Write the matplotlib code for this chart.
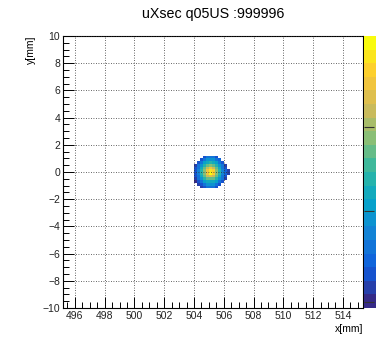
import numpy as np
import matplotlib
matplotlib.use("Agg")
import matplotlib.pyplot as plt
from matplotlib.colors import LinearSegmentedColormap, BoundaryNorm
from matplotlib.ticker import MultipleLocator

# beam spot, 0.2 mm bins, rows from top (y=+1.2) to bottom (y=-1.2)
x_edges = np.arange(504.0, 506.41, 0.2)
y_edges = np.arange(-1.2, 1.21, 0.2)
counts = np.array([
    [0, 0, 0, .22, .28, .30, .28, .22, 0, 0, 0, 0],
    [0, 0, .22, .32, .38, .40, .38, .32, .25, 0, 0, 0],
    [0, .22, .32, .42, .50, .52, .50, .42, .32, .22, 0, 0],
    [.18, .28, .40, .52, .60, .65, .60, .52, .40, .28, .18, 0],
    [.22, .32, .48, .62, .75, .82, .75, .62, .48, .32, .22, 0],
    [.22, .36, .52, .68, .85, .95, .90, .68, .52, .36, .25, .18],
    [.22, .36, .52, .68, .86, 1.0, .90, .68, .52, .36, .25, .18],
    [.20, .32, .48, .62, .75, .80, .75, .62, .48, .32, .22, 0],
    [.15, .28, .40, .52, .60, .62, .60, .52, .40, .28, .18, 0],
    [.12, .22, .32, .42, .48, .50, .48, .42, .32, .22, 0, 0],
    [0, .15, .22, .32, .38, .38, .38, .32, .22, 0, 0, 0],
    [0, 0, .15, .22, .28, .28, .28, .22, 0, 0, 0, 0],
])[::-1]
z_min, z_max = 0.10, 1.0
z_ticks = [0.12, 0.42, 0.70]

# ROOT kBird palette
bird = [(0.2082, 0.1664, 0.5293), (0.0592, 0.3599, 0.8684),
        (0.0780, 0.5041, 0.8385), (0.0232, 0.6419, 0.7914),
        (0.1802, 0.7178, 0.6425), (0.5301, 0.7492, 0.4662),
        (0.8186, 0.7328, 0.3499), (0.9956, 0.7862, 0.1968),
        (0.9764, 0.9832, 0.0539)]
cmap = LinearSegmentedColormap.from_list("bird", bird, N=255)
levels = np.linspace(z_min, z_max, 21)
norm = BoundaryNorm(levels, cmap.N)

plt.rcParams['font.family'] = ['Liberation Sans', 'DejaVu Sans']

W, H = 376, 339
fig = plt.figure(figsize=(W / 100, H / 100), dpi=100)
ax = fig.add_axes([63 / W, 1 - 308 / H, 300 / W, 272 / H])

z = np.ma.masked_equal(counts, 0)
mesh = ax.pcolormesh(x_edges, y_edges, z, cmap=cmap, norm=norm)

ax.set_xlim(495.2, 515.35)
ax.set_ylim(-10, 10)
ax.xaxis.set_major_locator(MultipleLocator(2))
ax.xaxis.set_minor_locator(MultipleLocator(0.5))
ax.yaxis.set_major_locator(MultipleLocator(2))
ax.yaxis.set_minor_locator(MultipleLocator(0.5))
ax.tick_params(which='both', direction='in', top=False, right=False,
               labelsize=7.5, width=0.7, pad=2, labelcolor='#222222')
ax.tick_params(which='major', length=8)
ax.tick_params(which='minor', length=4)
ax.grid(True, which='major', color='#333333', linestyle=(0, (1, 2)),
        linewidth=0.6)
ax.set_axisbelow(False)
for s in ax.spines.values():
    s.set_linewidth(0.8)

ax.set_title("uXsec q05US :999996", fontsize=10.3, pad=13)
ax.set_xlabel("x[mm]", fontsize=7.5, loc='right', labelpad=2)
ax.set_ylabel("y[mm]", fontsize=7.5, loc='top')
ax.yaxis.set_label_coords(-0.09, 1.0)

# palette strip at the right edge
cax = fig.add_axes([364 / W, 1 - 308 / H, 30 / W, 272 / H])
cb = fig.colorbar(mesh, cax=cax, ticks=z_ticks)
cb.outline.set_visible(False)
cax.tick_params(direction='in', length=7, width=0.8, labelsize=7.5,
                left=True, right=False, labelright=False, color='#333333')

fig.savefig("out.png", dpi=100)
